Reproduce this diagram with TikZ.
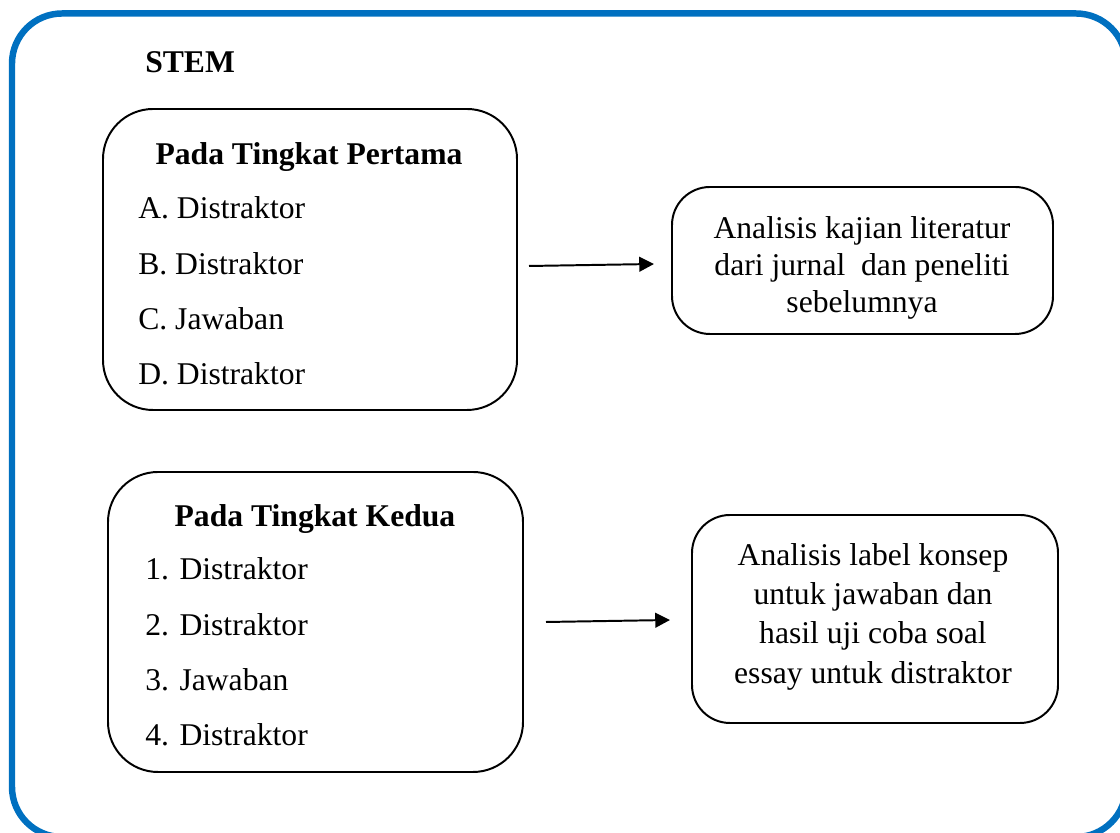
\documentclass[tikz,border=0pt]{standalone}
\usepackage{fontspec}
\setmainfont{Liberation Serif}
\usetikzlibrary{arrows.meta}

\definecolor{frameblue}{RGB}{0,112,192}

\begin{document}
\begin{tikzpicture}[
  box/.style={draw, line width=1.4pt, rounded corners=1.25cm, inner sep=0pt},
  smallbox/.style={box, rounded corners=0.95cm},
  txt/.style={font=\fontsize{22.5}{26.3}\selectfont, inner sep=0pt},
  item/.style={txt, anchor=base west},
  head/.style={txt, font=\fontsize{22.5}{26.3}\selectfont\bfseries, anchor=base},
  arr/.style={-{Triangle[length=10.5pt,width=10.5pt]}, line width=1.4pt}
]
\useasboundingbox (0,0) rectangle (28,20.825);
\draw[frameblue, line width=4.6pt, rounded corners=1.25cm] (0.3,-0.1) rectangle (28.15,20.4875);

\node[head, anchor=base west] (stem) at (3.625,19.0) {STEM};

% tingkat pertama
\node[box, minimum width=10.35cm, minimum height=7.525cm] (satu) at (7.75,14.3375) {};
\node[head] (satuhead) at (7.725,16.7) {Pada Tingkat Pertama};
\node[item] (a) at (3.45,15.35) {A. Distraktor};
\node[item] (b) at (3.45,13.95) {B. Distraktor};
\node[item] (c) at (3.45,12.575) {C. Jawaban};
\node[item] (d) at (3.45,11.2) {D. Distraktor};

% tingkat kedua
\node[box, minimum width=10.375cm, minimum height=7.5cm] (dua) at (7.8875,5.275) {};
\node[head] (duahead) at (7.875,7.65) {Pada Tingkat Kedua};
\node[item] (n1) at (3.625,6.325) {1. Distraktor};
\node[item] (n2) at (3.625,4.925) {2. Distraktor};
\node[item] (n3) at (3.625,3.55) {3. Jawaban};
\node[item] (n4) at (3.625,2.175) {4. Distraktor};

% analisis
\node[smallbox, minimum width=9.525cm, minimum height=3.675cm] (lit) at (21.5625,14.3125) {};
\node[txt, align=center] (littext) at (21.55,14.13) {Analisis kajian literatur\\dari jurnal\ \ dan peneliti\\sebelumnya};
\node[smallbox, minimum width=9.15cm, minimum height=5.2cm] (label) at (21.875,5.35) {};
\node[txt, align=center, font=\fontsize{22.5}{27.9}\selectfont] (labeltext) at (21.825,5.4075) {Analisis label konsep\\untuk jawaban dan\\hasil uji coba soal\\essay untuk distraktor};

\coordinate (p1) at (13.225,14.175);
\coordinate (q1) at (16.35,14.225);
\coordinate (p2) at (13.65,5.275);
\coordinate (q2) at (16.75,5.325);
\draw[arr] (p1) -- (q1);
\draw[arr] (p2) -- (q2);
\end{tikzpicture}
\end{document}
